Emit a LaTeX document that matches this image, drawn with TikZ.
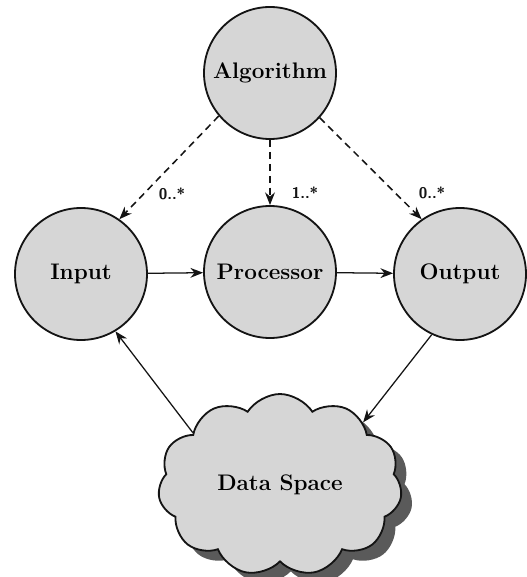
\documentclass[tikz,border=0pt]{standalone}
\usepackage{tikz}
\usetikzlibrary{shapes.symbols,shadows,arrows.meta}
\definecolor{bubblegray}{RGB}{214,214,214}
\definecolor{shadowgray}{RGB}{90,90,90}
\definecolor{inkblack}{RGB}{20,20,20}

\begin{document}
\begin{tikzpicture}[
    roleball/.style={circle, draw=inkblack, line width=1.3pt, fill=bubblegray,
        minimum size=3.3cm, inner sep=0pt, font=\fontsize{16}{19}\selectfont\bfseries},
    flowarrow/.style={-{Stealth[length=9pt,width=7pt]}, inkblack, line width=0.9pt},
    usesarrow/.style={flowarrow, line width=1.1pt, dash pattern=on 5pt off 3.5pt},
    multlabel/.style={inkblack, font=\fontsize{11}{13}\selectfont\sffamily\bfseries}
]
    \useasboundingbox (0,0) rectangle (13.15,14.425);

    % Roles
    \node[roleball] (alg) at (6.75,12.6) {Algorithm};
    \node[roleball] (in) at (2.025,7.575) {Input};
    \node[roleball] (proc) at (6.75,7.625) {Processor};
    \node[roleball] (out) at (11.5,7.575) {Output};

    % Data space
    \node[cloud, cloud puffs=11, cloud puff arc=115, aspect=1.2,
        draw=inkblack, line width=1.3pt, fill=bubblegray,
        minimum width=6.1cm, minimum height=4.25cm,
        font=\fontsize{16}{19}\selectfont\bfseries,
        drop shadow={shadow xshift=0.27cm, shadow yshift=-0.25cm,
            fill=shadowgray, opacity=1}] (data) at (7.0,2.3) {Data Space};

    % Algorithm uses
    \draw[usesarrow] (alg.220) -- (in.55);
    \draw[usesarrow] (alg.south) -- (proc.north);
    \draw[usesarrow] (alg.-42) -- (out.125);
    \node[multlabel] (mIn) at (4.3,9.575) {0..*};
    \node[multlabel] (mProc) at (7.625,9.6) {1..*};
    \node[multlabel] (mOut) at (10.8,9.6) {0..*};

    % Data flow
    \draw[flowarrow] (in) -- (proc);
    \draw[flowarrow] (proc) -- (out);
    \draw[flowarrow] (out.-115) -- (data.37);
    \draw[flowarrow] (data.149) -- (in.-59);
\end{tikzpicture}
\end{document}
